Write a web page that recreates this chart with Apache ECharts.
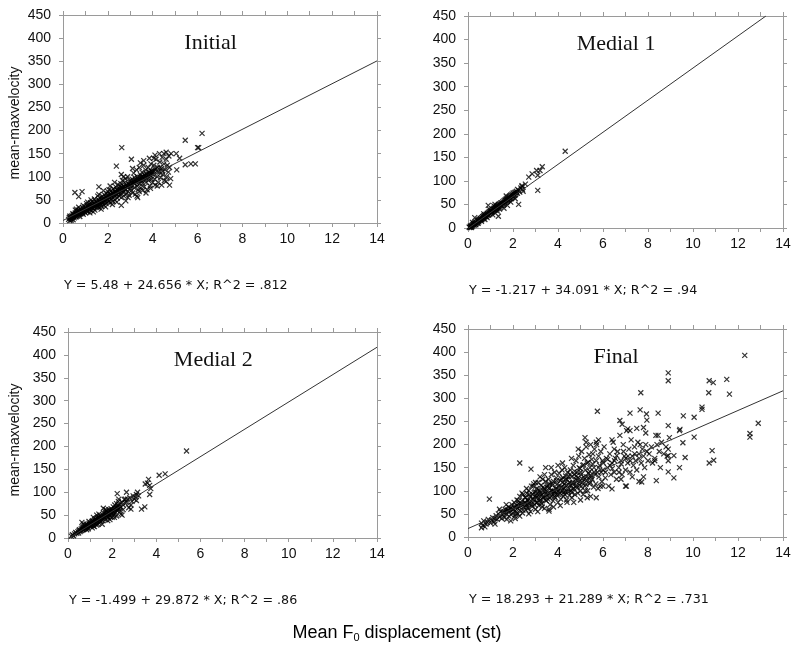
<!DOCTYPE html>
<html>
<head>
<meta charset="utf-8">
<script src="https://cdn.jsdelivr.net/npm/echarts@6/dist/echarts.min.js"></script>
<style>
  html, body { margin: 0; background: #fff; }
  #chart { width: 800px; height: 647px; }
</style>
</head>
<body>
<div id="chart"></div>
<script>
// points: [F0 displacement (st), mean max velocity]
const initialPts = [
  [0.25,8],[0.28,12],[0.3,5],[0.32,10],[0.35,14],[0.38,9],[0.4,16],[0.42,12],[0.45,7],[0.46,18],[0.48,14],[0.5,11],[0.3,15],[0.36,6],[0.44,20],
  [0.52,17],[0.55,22],[0.58,13],[0.6,19],[0.62,26],[0.65,15],[0.68,21],[0.7,28],[0.72,18],[0.75,24],[0.78,30],[0.8,20],[0.82,27],[0.85,23],[0.88,33],[0.9,19],[0.92,29],[0.95,25],[0.98,35],[1.0,22],[0.6,30],[0.75,14],[0.9,38],[0.55,28],[0.7,34],
  [1.02,30],[1.05,26],[1.08,37],[1.1,24],[1.12,32],[1.15,40],[1.18,29],[1.2,35],[1.22,44],[1.25,27],[1.28,38],[1.3,33],[1.32,46],[1.35,31],[1.38,41],[1.4,36],[1.42,28],[1.45,48],[1.48,39],[1.5,34],[1.1,45],[1.25,50],[1.4,52],[1.2,22],[1.35,24],[1.05,42],
  [1.52,42],[1.55,37],[1.58,50],[1.6,33],[1.62,45],[1.65,55],[1.68,40],[1.7,48],[1.72,36],[1.75,58],[1.78,44],[1.8,52],[1.82,39],[1.85,61],[1.88,47],[1.9,56],[1.92,42],[1.95,64],[1.98,50],[2.0,45],[1.6,62],[1.8,70],[1.7,30],[1.9,35],[1.55,58],[2.0,68],
  [2.02,55],[2.05,48],[2.08,62],[2.1,44],[2.12,58],[2.15,70],[2.18,52],[2.2,65],[2.22,47],[2.25,74],[2.28,57],[2.3,68],[2.32,50],[2.35,78],[2.38,61],[2.4,72],[2.42,54],[2.45,83],[2.48,64],[2.5,58],[2.1,80],[2.3,88],[2.2,40],[2.4,45],[2.15,60],[2.35,66],[2.45,70],[2.05,72],
  [2.52,75],[2.55,62],[2.58,85],[2.6,55],[2.62,70],[2.65,92],[2.68,66],[2.7,80],[2.72,58],[2.75,88],[2.78,72],[2.8,96],[2.82,63],[2.85,78],[2.88,100],[2.9,68],[2.92,84],[2.95,60],[2.98,92],[3.0,75],[2.6,105],[2.8,48],[2.7,100],[2.55,80],[2.9,55],[2.65,76],
  [3.02,82],[3.05,70],[3.08,95],[3.1,65],[3.12,88],[3.15,108],[3.18,76],[3.2,98],[3.22,62],[3.25,90],[3.28,115],[3.3,80],[3.32,100],[3.35,72],[3.38,94],[3.4,120],[3.42,85],[3.45,104],[3.48,76],[3.5,92],[3.1,118],[3.3,58],[3.45,130],[3.2,85],[3.4,68],
  [3.52,110],[3.55,86],[3.58,100],[3.6,125],[3.62,78],[3.65,95],[3.68,115],[3.7,88],[3.72,105],[3.75,72],[3.78,98],[3.8,120],[3.82,92],[3.85,110],[3.88,80],[3.9,102],[3.92,128],[3.95,95],[3.98,112],[4.0,88],[3.6,135],[3.7,65],[3.85,140],[3.55,70],[3.9,75],
  [4.02,105],[4.05,125],[4.08,95],[4.1,115],[4.15,138],[4.2,100],[4.22,120],[4.25,88],[4.3,110],[4.32,132],[4.35,98],[4.4,118],[4.42,142],[4.45,105],[4.5,128],[4.52,92],[4.55,115],[4.6,138],[4.62,100],[4.65,125],[4.7,110],[4.72,145],[4.75,120],[4.3,150],[4.5,150],[4.2,80],[4.6,90],[4.05,140],
  [0.33,11],[0.41,13],[0.47,15],[0.53,19],[0.57,16],[0.63,21],[0.67,18],[0.73,23],[0.77,20],[0.83,26],[0.87,22],[0.93,28],[0.97,24],[1.03,31],[1.07,28],[1.13,34],[1.17,31],[1.23,36],[1.27,33],[1.33,39],
  [1.37,35],[1.43,41],[1.47,37],[1.53,44],[1.57,40],[1.63,47],[1.67,43],[1.73,50],[1.77,46],[1.83,53],[1.87,49],[1.93,56],[1.97,52],[2.03,59],[2.07,55],[2.13,62],[2.17,58],[2.23,65],[2.27,61],[2.33,68],
  [2.37,63],[2.43,71],[2.47,66],[2.53,73],[2.57,69],[2.63,76],[2.67,72],[2.73,79],[2.77,75],[2.83,82],[2.87,77],[2.93,85],[2.97,80],[3.03,88],[3.07,83],[3.13,90],[3.17,86],[3.23,93],[3.27,88],[3.33,96],
  [3.37,91],[3.43,99],[3.47,94],[3.53,101],[3.57,96],[3.63,104],[3.67,99],[3.73,107],[3.77,102],[3.83,110],[3.87,104],[3.93,112],[3.97,107],[4.03,114],[4.13,117],[4.23,110],[4.33,120],[4.43,112],
  [1.5,45],[2.0,58],[2.5,68],[3.0,80],[3.5,100],[1.0,30],[1.25,38],[1.75,52],[2.25,62],[2.75,74],
  [6.2,194],[5.45,179],[6.0,163],[6.05,163],[2.62,163],[5.45,126],[5.7,128],[5.9,128],[5.05,150],[5.2,140],[4.82,150],[4.6,153],[5.07,115],
  [4.8,96],[4.75,82],[4.4,82],[0.53,66],[0.85,68],[0.7,57],[1.6,78],[2.38,123],[3.05,138],[4.1,147],[4.1,82],[3.33,55],[2.6,38]
];

const medial1Pts = [
  [0.05,2],[0.08,1],[0.1,4],[0.12,2],[0.15,5],[0.18,3],[0.2,7],[0.22,5],[0.25,9],[0.28,6],[0.3,11],[0.32,8],[0.35,13],[0.38,10],[0.4,15],[0.42,11],[0.45,17],[0.48,13],[0.5,18],[0.3,22],[0.2,12],[0.45,10],[0.35,7],[0.15,1],
  [0.52,16],[0.55,20],[0.58,17],[0.6,22],[0.62,18],[0.65,24],[0.68,20],[0.7,26],[0.72,22],[0.75,28],[0.78,24],[0.8,29],[0.82,25],[0.85,31],[0.88,27],[0.9,33],[0.92,28],[0.95,35],[0.98,30],[1.0,36],[0.6,14],[0.75,18],[0.9,48],[0.85,22],[0.7,30],[0.95,40],
  [1.02,32],[1.05,38],[1.08,34],[1.1,40],[1.12,35],[1.15,42],[1.18,37],[1.2,44],[1.22,38],[1.25,46],[1.28,40],[1.3,48],[1.32,42],[1.35,50],[1.38,44],[1.4,51],[1.42,46],[1.45,53],[1.48,48],[1.5,54],[1.1,28],[1.3,36],[1.2,50],[1.4,40],[1.35,25],[1.15,47],
  [1.52,50],[1.55,56],[1.58,52],[1.6,58],[1.62,53],[1.65,60],[1.68,55],[1.7,62],[1.72,57],[1.75,64],[1.78,59],[1.8,66],[1.82,60],[1.85,68],[1.88,62],[1.9,70],[1.92,64],[1.95,72],[1.98,66],[2.0,74],[1.6,42],[1.75,48],[1.9,55],[1.7,68],
  [2.02,68],[2.05,75],[2.08,70],[2.1,76],[2.12,72],[2.15,78],[2.2,74],[2.25,80],[2.3,76],[2.35,85],[2.4,88],[2.42,82],[2.45,78],[2.1,62],[2.2,82],
  [0.14,4],[0.24,8],[0.34,11],[0.44,14],[0.54,18],[0.64,21],[0.74,25],[0.84,28],[0.94,31],[1.04,35],[1.14,38],[1.24,41],[1.34,45],[1.44,48],[1.54,52],[1.64,55],[1.74,58],[1.84,62],[1.94,65],[2.04,70],
  [0.27,10],[0.57,20],[0.87,30],[1.17,40],[1.47,50],[1.77,60],[1.97,68],[2.17,74],[1.27,44],[0.67,24],[1.06,33],[1.36,47],[1.66,58],[1.86,64],[0.47,16],[0.77,26],
  [4.32,163],[3.1,80],[2.25,50],[3.3,130],[3.2,122],[3.05,122],[2.85,115],[2.7,108],[2.55,93],[3.1,112],[2.4,90]
];

const medial2Pts = [
  [0.15,4],[0.2,7],[0.25,5],[0.3,9],[0.35,12],[0.4,10],[0.45,14],[0.5,16],[0.48,11],
  [0.52,18],[0.55,14],[0.6,20],[0.62,16],[0.65,22],[0.68,18],[0.7,24],[0.72,19],[0.75,26],[0.78,21],[0.8,28],[0.82,22],[0.85,30],[0.88,24],[0.9,27],[0.92,20],[0.95,32],[0.98,26],[1.0,29],[0.7,30],[0.85,18],[0.95,36],
  [1.02,33],[1.05,27],[1.08,36],[1.1,30],[1.12,38],[1.15,26],[1.18,34],[1.2,40],[1.22,31],[1.25,42],[1.28,35],[1.3,28],[1.32,44],[1.35,37],[1.38,46],[1.4,33],[1.42,40],[1.45,48],[1.48,36],[1.5,43],[1.1,22],[1.3,50],[1.2,25],[1.4,52],[1.35,30],[1.25,36],[1.45,39],[1.15,45],
  [1.52,46],[1.55,38],[1.58,50],[1.6,42],[1.62,54],[1.65,45],[1.68,57],[1.7,40],[1.72,52],[1.75,60],[1.78,47],[1.8,55],[1.82,44],[1.85,62],[1.88,50],[1.9,58],[1.92,46],[1.95,64],[1.98,53],[2.0,60],[1.6,65],[1.8,38],[1.9,40],[1.7,62],[1.55,30],[2.0,45],
  [2.02,56],[2.05,68],[2.08,50],[2.1,62],[2.12,72],[2.15,55],[2.18,66],[2.2,75],[2.22,60],[2.25,70],[2.28,80],[2.3,64],[2.32,74],[2.35,58],[2.4,68],[2.45,78],[2.5,72],[2.55,84],[2.6,76],[2.1,45],[2.2,48],[2.3,85],[2.4,52],[2.5,62],[2.6,85],
  [2.65,78],[2.7,85],[2.75,66],[2.8,88],[2.85,72],[2.9,80],[2.95,92],[3.0,85],[3.05,90],
  [0.58,16],[0.66,19],[0.74,21],[0.84,24],[0.94,28],[1.04,30],[1.14,33],[1.24,36],[1.34,39],[1.44,42],[1.54,44],[1.64,48],[1.74,51],[1.84,53],[1.94,57],[2.04,59],[2.14,63],[2.24,65],[2.34,68],
  [1.19,35],[1.29,38],[1.39,41],[1.49,44],[1.59,47],[1.69,50],[1.79,52],[1.89,55],[1.99,58],[2.09,61],[2.19,64],[2.29,67],[1.09,32],[0.99,29],[0.89,26],[0.79,23],
  [5.37,190],[4.13,137],[4.4,140],[3.5,118],[3.6,120],[3.65,128],[3.7,115],[3.75,108],[3.7,95],[3.33,63],[3.48,68],
  [3.15,100],[3.1,95],[3.1,82],[3.2,92],[2.65,100],[2.23,97],[2.45,50],[2.85,63],[0.63,34]
];

const finalPts = [
  [0.6,30],[0.65,25],[0.7,35],[0.8,28],[0.85,32],[0.9,38],[1.0,30],[1.05,36],[1.1,42],[1.15,33],[1.2,40],[1.25,46],[1.3,38],[1.35,50],[1.4,43],[1.45,55],[1.5,40],[0.75,22],[1.2,28],[1.4,60],
  [1.55,48],[1.6,55],[1.62,42],[1.65,60],[1.7,50],[1.72,38],[1.75,58],[1.8,65],[1.82,45],[1.85,55],[1.9,62],[1.92,48],[1.95,70],[2.0,52],[2.02,60],[2.05,75],[2.08,45],[2.1,66],[2.15,55],[2.18,80],[2.2,62],[2.22,50],[2.25,72],[2.3,88],[2.32,58],[2.35,68],[2.4,78],[2.42,52],[2.45,92],[2.5,65],[1.7,70],[1.9,35],[2.1,40],[2.3,45],[2.4,95],
  [2.52,75],[2.55,85],[2.58,58],[2.6,70],[2.62,95],[2.65,80],[2.68,62],[2.7,100],[2.72,72],[2.75,88],[2.78,55],[2.8,78],[2.82,110],[2.85,66],[2.88,92],[2.9,82],[2.92,115],[2.95,70],[2.98,98],[3.0,60],[3.02,85],[3.05,105],[3.08,75],[3.1,95],[3.12,118],[3.15,68],[3.18,88],[3.2,100],[3.22,80],[3.25,112],[3.28,72],[3.3,92],[3.32,125],[3.35,85],[3.38,105],[3.4,62],[3.42,98],[3.45,120],[3.48,78],[3.5,90],[2.6,105],[2.9,110],[3.0,118],[3.2,130],[3.4,135],[2.7,50],[3.1,55],[3.3,65],[3.45,150],[3.6,56],
  [3.52,108],[3.55,82],[3.58,125],[3.6,95],[3.62,115],[3.65,70],[3.68,100],[3.7,135],[3.72,88],[3.75,112],[3.78,78],[3.8,120],[3.82,98],[3.85,140],[3.88,85],[3.9,105],[3.92,128],[3.95,92],[3.98,115],[4.0,75],[4.02,110],[4.05,138],[4.08,95],[4.1,122],[4.12,82],[4.15,108],[4.18,145],[4.2,100],[4.22,128],[4.25,88],[4.28,115],[4.3,150],[4.32,98],[4.35,125],[4.38,80],[4.4,112],[4.42,140],[4.45,102],[4.48,130],[4.5,90],[3.6,60],[3.8,65],[4.0,155],[4.2,160],[4.4,75],[3.7,150],[4.1,68],[4.3,92],
  [4.52,118],[4.55,145],[4.58,100],[4.6,130],[4.62,85],[4.65,115],[4.68,155],[4.7,105],[4.72,135],[4.75,92],[4.78,125],[4.8,165],[4.82,110],[4.85,140],[4.88,95],[4.9,128],[4.92,175],[4.95,112],[4.98,148],[5.0,100],[5.02,135],[5.05,185],[5.08,118],[5.1,155],[5.12,92],[5.15,130],[5.18,170],[5.2,110],[5.22,145],[5.25,195],[5.28,122],[5.3,160],[5.32,100],[5.35,138],[5.38,178],[5.4,115],[5.42,150],[5.45,88],[5.48,130],[5.5,168],[4.6,170],[4.9,190],[5.2,215],[5.25,205],[5.45,200],[4.7,75],[5.0,80],[5.3,85],[5.7,85],
  [5.52,125],[5.55,180],[5.58,108],[5.6,150],[5.62,190],[5.65,135],[5.68,115],[5.7,165],[5.72,200],[5.75,140],[5.78,105],[5.8,175],[5.82,130],[5.85,155],[5.88,110],[5.9,185],[5.92,140],[5.95,120],[5.98,165],[6.0,145],[6.05,195],[6.1,128],[6.15,170],[6.2,150],[6.25,110],[6.3,180],[6.35,135],[6.4,160],[6.45,205],[6.5,140],[5.7,205],[5.8,210],[6.4,210],[6.5,190],[6.0,110],
  [6.55,170],[6.6,125],[6.65,185],[6.7,150],[6.75,220],[6.8,165],[6.85,135],[6.9,200],[6.95,175],[7.0,145],[7.05,230],[7.1,160],[7.15,190],[7.2,140],[7.25,210],[7.3,175],[7.35,155],[7.4,195],[7.45,165],[7.5,145],[7.55,205],[7.6,180],[7.65,200],[7.7,160],[7.75,190],[7.8,175],[7.85,150],[7.9,200],[7.95,185],[8.0,165],[6.8,125],[7.0,110],[7.3,130],[7.6,120],[7.8,130],[7.2,230],[7.5,235],[7.9,225],
  [8.05,180],[8.15,195],[8.2,160],[8.3,170],[8.35,220],[8.45,220],[8.5,185],[8.55,150],[8.6,205],[8.7,180],[8.8,195],[8.85,175],[8.9,165],[8.95,215],[8.3,165],[8.4,200],
  [1.58,52],[1.68,56],[1.78,58],[1.88,62],[1.98,60],[2.06,64],[2.16,68],[2.26,66],[2.36,72],[2.46,70],[2.56,74],[2.66,78],[2.76,76],[2.86,82],[2.96,80],[3.06,86],[3.16,84],[3.26,90],[3.36,88],[3.46,94],
  [3.56,92],[3.66,96],[3.76,100],[3.86,98],[3.96,104],[4.06,102],[4.16,108],[4.26,106],[4.36,110],[4.46,114],[4.56,112],[4.66,118],[4.76,116],[4.86,122],[4.96,120],[5.06,126],[5.16,124],[5.26,130],[5.36,128],[5.46,134],
  [2.14,50],[2.44,58],[2.64,65],[2.84,70],[3.04,74],[3.24,76],[3.44,80],[3.64,84],[3.84,88],[4.04,92],[4.24,96],[4.44,98],[4.64,104],[4.84,106],[5.04,110],[5.24,114],[5.44,118],
  [2.24,78],[2.54,86],[2.74,92],[2.94,96],[3.14,102],[3.34,108],[3.54,112],[3.74,116],[3.94,122],[4.14,126],[4.34,132],[4.54,136],[4.74,142],[4.94,150],[5.14,156],[5.34,162],[5.54,158],
  [3.01,90],[3.21,95],[3.41,102],[3.61,106],[3.81,94],[4.01,100],[4.21,118],[4.41,124],[4.61,96],[4.81,132],[5.01,140],[5.21,100],[5.41,142],[5.61,140],[5.81,150],[6.01,160],[6.21,168],[6.41,148],[6.61,176],[6.81,158],
  [7.01,170],[7.21,165],[7.41,180],[7.61,170],[6.11,140],[6.31,155],[6.51,165],[6.71,140],[6.91,185],[7.11,175],
  [12.3,393],[8.9,355],[8.9,338],[7.68,312],[10.72,338],[10.9,334],[11.5,341],[10.7,312],[11.62,309],[5.75,272],[7.2,268],[7.65,275],[7.93,266],[8.45,268],[7.95,253],[6.75,252],[6.85,244],[7.1,234],[7.8,237],[8.9,241],
  [9.57,262],[10.05,259],[10.4,281],[10.4,276],[12.9,246],[12.53,224],[12.53,216],[10.05,216],[10.85,187],[10.92,166],[10.72,160],[9.42,233],[9.4,230],[9.55,204],[9.65,172],[9.4,150],[9.15,128],[8.9,141],[8.37,122],[7.72,119],
  [7.04,110],[6.4,104],[2.3,160],[2.8,147],[0.95,82],[0.6,20],[9.15,176],[8.9,176],[8.9,190]
];

// fitted lines, end points
const initialFit = [[0, 5.5], [14, 350.7]];
const medial1Fit = [[0, -1.2], [13.24, 450]];
const medial2Fit = [[0, -1.5], [14, 416.7]];
const finalFit = [[0, 18.3], [14, 316.3]];

const panelNames = ['Initial', 'Medial 1', 'Medial 2', 'Final'];
const equations = [
  'Y = 5.48 + 24.656 * X; R^2 = .812',
  'Y = -1.217 + 34.091 * X; R^2 = .94',
  'Y = -1.499 + 29.872 * X; R^2 = .86',
  'Y = 18.293 + 21.289 * X; R^2 = .731'
];
const pointSets = [initialPts, medial1Pts, medial2Pts, finalPts];
const fitSets = [initialFit, medial1Fit, medial2Fit, finalFit];

const X_MAX = 14, Y_MAX = 450;

const grids = [
  { left: 63, top: 15, width: 314, height: 208 },
  { left: 468, top: 16, width: 315, height: 212 },
  { left: 68, top: 332, width: 309, height: 206 },
  { left: 468, top: 329, width: 315, height: 208 }
];

const axisGrey = '#9a9a9a';
const labelFont = { color: '#111', fontSize: 14, fontFamily: 'Liberation Sans' };
const xMark = 'path://M0 0L10 10M10 0L0 10';

const xAxes = [], yAxes = [], series = [], texts = [];

grids.forEach((g, i) => {
  const common = {
    gridIndex: i, type: 'value', min: 0, splitLine: { show: false },
    axisLine: { onZero: false, lineStyle: { color: axisGrey } },
    axisTick: { length: 4, lineStyle: { color: axisGrey } }
  };
  const minor = { show: true, splitNumber: 2, length: 4, lineStyle: { color: axisGrey } };
  xAxes.push(Object.assign({}, common, {
    position: 'bottom', max: X_MAX, interval: 2, minorTick: minor,
    axisLabel: Object.assign({ margin: 9 }, labelFont)
  }));
  xAxes.push(Object.assign({}, common, {
    position: 'top', max: X_MAX, interval: 2, minorTick: minor,
    axisLabel: { show: false }
  }));
  yAxes.push(Object.assign({}, common, {
    position: 'left', max: Y_MAX, interval: 50,
    axisLabel: Object.assign({ margin: 12 }, labelFont)
  }));
  yAxes.push(Object.assign({}, common, {
    position: 'right', max: Y_MAX, interval: 50,
    axisLabel: { show: false }
  }));

  series.push({
    type: 'scatter', xAxisIndex: i * 2, yAxisIndex: i * 2,
    data: pointSets[i], symbol: xMark, symbolSize: 5,
    itemStyle: { color: 'rgba(0,0,0,0)', borderColor: '#000', borderWidth: 1.2 },
    emphasis: { disabled: true }, z: 3
  });
  series.push({
    type: 'line', xAxisIndex: i * 2, yAxisIndex: i * 2,
    data: fitSets[i], symbol: 'none', clip: true,
    lineStyle: { color: '#333', width: 1 }, z: 4
  });

  texts.push({
    type: 'text', x: g.left + g.width * 0.47, y: g.top + 28,
    style: { text: panelNames[i], font: '22px "Liberation Serif"', fill: '#111', textAlign: 'center', textVerticalAlign: 'middle' }
  });
  texts.push({
    type: 'text', x: g.left + 1, y: g.top + g.height + 63,
    style: { text: equations[i], font: '12.7px "DejaVu Sans"', fill: '#111', textAlign: 'left', textVerticalAlign: 'middle' }
  });
});

// y axis names on the left panels
[[15, 123], [15, 440]].forEach(([x, y]) => {
  texts.push({
    type: 'text', x: x, y: y, rotation: Math.PI / 2,
    style: { text: 'mean-maxvelocity', font: '14px "Liberation Sans"', fill: '#111', textAlign: 'center', textVerticalAlign: 'middle' }
  });
});

texts.push({
  type: 'text', x: 397, y: 633,
  style: {
    text: '{a|Mean F}{s|0}{a| displacement (st)}', textAlign: 'center', textVerticalAlign: 'middle',
    rich: {
      a: { fontSize: 18, fontFamily: 'Liberation Sans', color: '#111', lineHeight: 21, verticalAlign: 'middle' },
      s: { fontSize: 11, fontFamily: 'Liberation Sans', color: '#111', lineHeight: 12, verticalAlign: 'bottom' }
    }
  }
});

const chart = echarts.init(document.getElementById('chart'));
chart.setOption({
  animation: false,
  backgroundColor: '#fff',
  grid: grids,
  xAxis: xAxes,
  yAxis: yAxes,
  series: series,
  graphic: texts
});
window.addEventListener('resize', () => chart.resize());
</script>
</body>
</html>
